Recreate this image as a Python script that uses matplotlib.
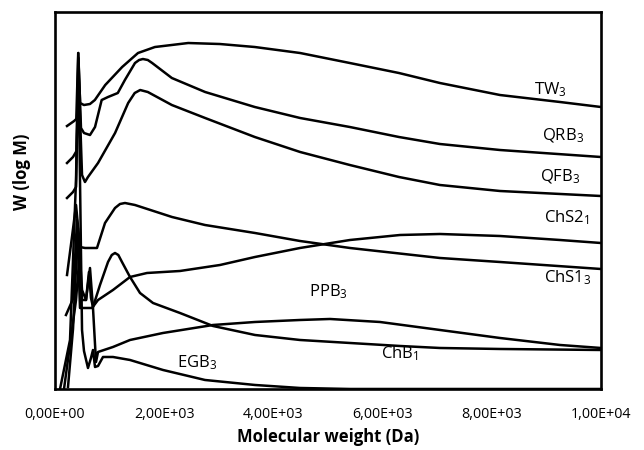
import matplotlib
matplotlib.use("Agg")
import matplotlib.pyplot as plt

plt.rcParams['font.family'] = ['Open Sans', 'DejaVu Sans']
plt.rcParams['mathtext.default'] = 'regular'

# molecular weight (Da) and W (log M) in arbitrary units
tw3_x = [220, 350, 390, 425, 460, 530, 640, 730, 920, 1230, 1520, 1830, 2440, 3020,
         3660, 4490, 5400, 6300, 7050, 8150, 9250, 10000]
tw3_y = [263, 268, 270, 336, 286, 284, 285, 289, 304, 322, 336, 342, 346, 345,
         342, 336, 326, 316, 306, 294, 287, 282]

qrb3_x = [220, 330, 394, 430, 476, 531, 641, 733, 855, 971, 1150, 1280, 1465, 1540,
          1610, 1700, 1780, 2140, 2750, 3660, 4490, 5400, 6300, 7050, 8150, 10000]
qrb3_y = [226, 232, 238, 331, 261, 256, 254, 262, 289, 292, 296, 309, 326, 329,
          330, 329, 326, 311, 297, 282, 271, 262, 252, 245, 239, 232]

qfb3_x = [220, 330, 385, 430, 495, 549, 604, 788, 1100, 1340, 1460, 1560, 1700, 2140,
          2750, 3660, 4490, 5400, 6300, 7050, 8150, 10000]
qfb3_y = [191, 197, 202, 319, 214, 207, 212, 226, 256, 286, 296, 299, 297, 284,
          271, 252, 237, 224, 212, 204, 198, 193]

chs21_x = [220, 311, 385, 458, 549, 769, 916, 1099, 1190, 1282, 1465, 2143, 2747, 3663,
           4487, 5403, 7051, 8150, 10000]
chs21_y = [114, 152, 184, 142, 141, 141, 166, 181, 185, 186, 184, 172, 164, 156,
           148, 141, 131, 127, 120]

chs13_x = [201, 330, 403, 458, 678, 788, 1062, 1374, 1685, 2289, 3022, 3663, 4487,
           5403, 6319, 7051, 8150, 9249, 10000]
chs13_y = [74, 90, 169, 81, 81, 89, 99, 112, 116, 118, 124, 132, 141,
           149, 154, 155, 153, 149, 146]

chb1_x = [238, 330, 421, 495, 568, 622, 659, 696, 824, 971, 1040, 1099, 1160, 1227,
          1374, 1557, 1795, 2289, 2894, 3663, 4487, 5403, 6319, 7051, 8150, 10000]
chb1_y = [2, 60, 161, 99, 89, 117, 91, 82, 104, 127, 134, 136, 134, 127,
          112, 96, 86, 76, 63, 54, 49, 46, 43, 41, 40, 39]

ppb3_x = [165, 311, 385, 440, 495, 568, 641, 696, 751, 788, 1062, 1374, 1978, 2894,
          3663, 4487, 5037, 5952, 7051, 8150, 9249, 10000]
ppb3_y = [0, 59, 89, 127, 89, 89, 121, 81, 27, 37, 42, 49, 56, 64,
          67, 69, 70, 67, 59, 51, 44, 41]

egb3_x = [92, 275, 385, 427, 458, 495, 531, 604, 659, 696, 733, 788, 879, 1062,
          1374, 1978, 2747, 3663, 4487, 5403, 10000]
egb3_y = [0, 49, 209, 336, 209, 59, 38, 21, 31, 39, 22, 23, 32, 32,
          29, 19, 9, 4, 1, 0, 0]

series = [(tw3_x, tw3_y), (qrb3_x, qrb3_y), (qfb3_x, qfb3_y), (chs21_x, chs21_y),
          (chs13_x, chs13_y), (chb1_x, chb1_y), (ppb3_x, ppb3_y), (egb3_x, egb3_y)]

# curve labels: text, x, y
labels = [("TW$_3$", 9066, 299), ("QRB$_3$", 9304, 253), ("QFB$_3$", 9249, 212),
          ("ChS2$_1$", 9377, 171), ("ChS1$_3$", 9396, 111), ("PPB$_3$", 5000, 97),
          ("ChB$_1$", 6319, 35), ("EGB$_3$", 2601, 26)]

xticks = [0, 2000, 4000, 6000, 8000, 10000]

fig = plt.figure(figsize=(6.44, 4.5), dpi=100)
ax = fig.add_axes([0.0854, 0.1356, 0.8478, 0.8377])

for xs, ys in series:
    ax.plot(xs, ys, color='black', linewidth=1.8, solid_joinstyle='round')

for txt, lx, ly in labels:
    ax.text(lx, ly, txt, ha='center', va='center', fontsize=12)

ax.set_xlim(0, 10000)
ax.set_ylim(0, 377)
ax.set_xticks(xticks)
ax.set_xticklabels([f"{v:.2E}".replace('.', ',') for v in xticks], fontsize=10.3)
ax.set_yticks([])
ax.tick_params(axis='x', length=0, pad=13)
for s in ax.spines.values():
    s.set_linewidth(1.9)
    s.set_color('black')

fig.text(328 / 644, 1 - 437 / 450, "Molecular weight (Da)", ha='center', va='center',
         fontsize=12, fontweight='bold')
fig.text(22 / 644, 1 - 172 / 450, "W (log M)", ha='center', va='center',
         fontsize=12, fontweight='bold', rotation=90)

fig.savefig("out.png", dpi=100)
